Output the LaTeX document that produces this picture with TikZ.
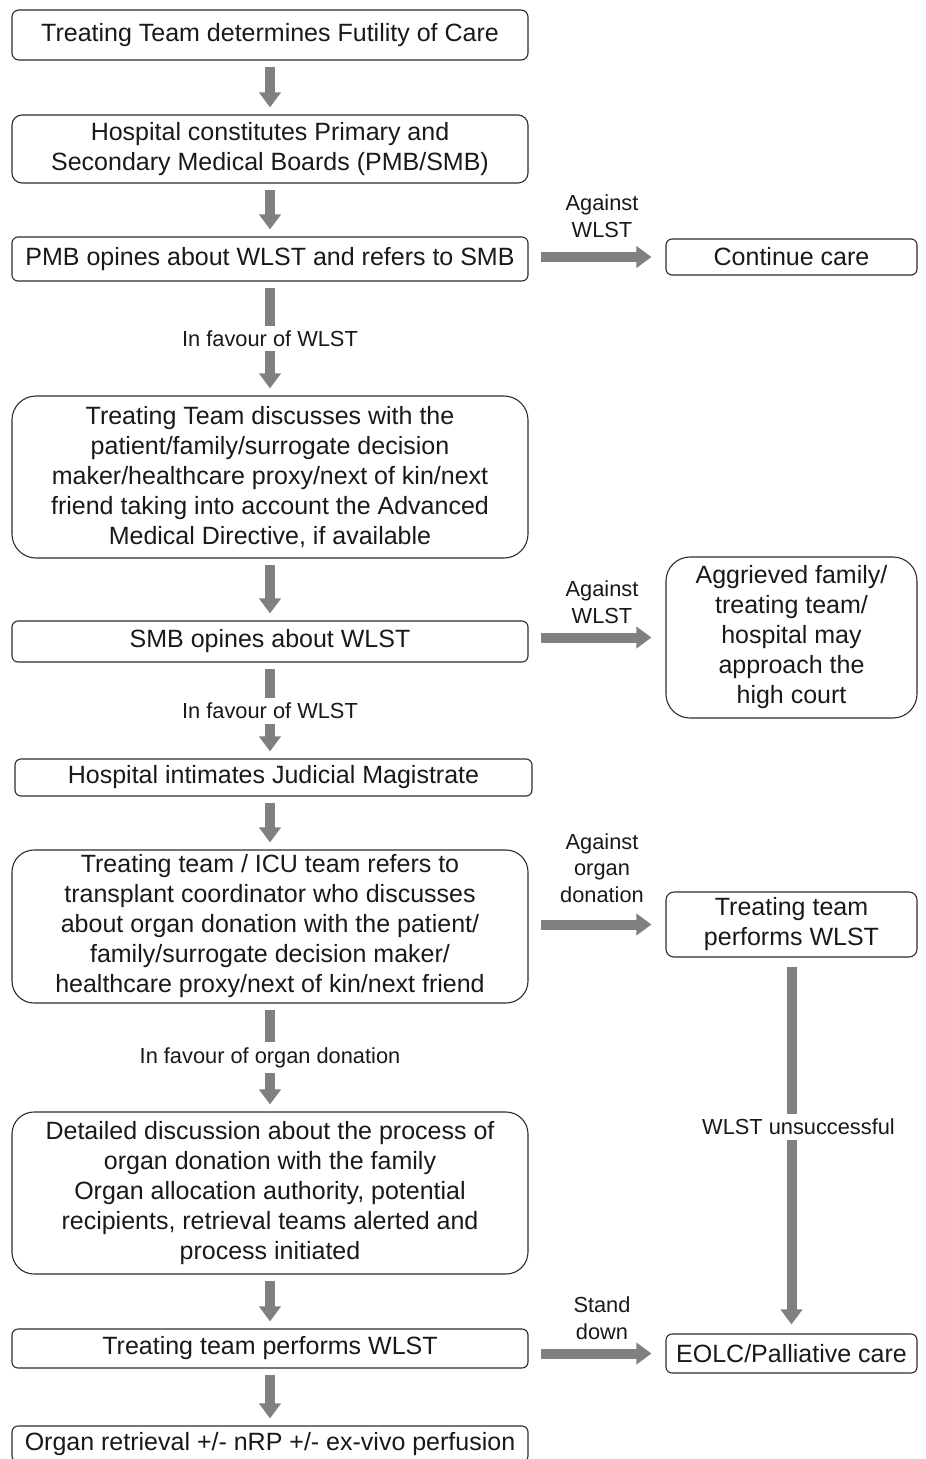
\documentclass[tikz,border=0pt]{standalone}
\usepackage{fontspec}
\setmainfont{Liberation Sans}
\usetikzlibrary{arrows.meta}
\definecolor{arrgray}{RGB}{128,128,128}
\definecolor{txt}{RGB}{25,25,25}
\definecolor{edge}{RGB}{45,45,45}
\begin{document}
\begin{tikzpicture}[x=1pt,y=-1pt,
  box/.style={draw=edge, line width=1.1pt, rounded corners=#1, align=center,
    font=\fontsize{25}{30}\selectfont, text=txt, inner sep=0pt, minimum width=516pt},
  box/.default=6pt,
  lbl/.style={font=\fontsize{21.8}{26.5}\selectfont, align=center, text=txt, inner sep=0pt},
  vlbl/.style={lbl, fill=white, inner sep=5pt},
  arr/.style={draw=arrgray, line width=10pt, -{Triangle[width=21pt,length=15pt]}},
  vshort/.style={shorten <=6pt, shorten >=7pt},
  hshort/.style={shorten <=12pt, shorten >=14pt}]
\useasboundingbox (0,0) rectangle (926,1459);
\clip (0,0) rectangle (926,1459);

\node[box=7pt, minimum height=50pt] (b1) at (270,35) {Treating Team determines Futility of Care};
\node[box=10pt, minimum height=68pt] (b2) at (270,149) {Hospital constitutes Primary and\\Secondary Medical Boards (PMB/SMB)};
\node[box=6pt, minimum height=44pt] (b3) at (270,259) {PMB opines about WLST and refers to SMB};
\node[box=6pt, minimum width=251pt, minimum height=36pt] (cont) at (791.5,257) {Continue care};
\node[box=24pt, minimum height=162pt] (b4) at (270,477) {Treating Team discusses with the\\patient/family/surrogate decision\\maker/healthcare proxy/next of kin/next\\friend taking into account the Advanced\\Medical Directive, if available};
\node[box=6pt, minimum height=41pt] (b5) at (270,641.5) {SMB opines about WLST};
\node[box=24pt, minimum width=251pt, minimum height=161pt] (aggr) at (791.5,637.5) {Aggrieved family/\\treating team/\\hospital may\\approach the\\high court};
\node[box=6pt, minimum width=517pt, minimum height=37pt] (b6) at (273.5,777.5) {Hospital intimates Judicial Magistrate};
\node[box=22pt, minimum height=153pt] (b7) at (270,926.5) {Treating team / ICU team refers to\\transplant coordinator who discusses\\about organ donation with the patient/\\family/surrogate decision maker/\\healthcare proxy/next of kin/next friend};
\node[box=8pt, minimum width=251pt, minimum height=65pt] (twls) at (791.5,924.5) {Treating team\\performs WLST};
\node[box=22pt, minimum height=162pt] (b8) at (270,1193) {Detailed discussion about the process of\\organ donation with the family\\Organ allocation authority, potential\\recipients, retrieval teams alerted and\\process initiated};
\node[box=6pt, minimum height=39pt] (b9) at (270,1348.5) {Treating team performs WLST};
\node[box=6pt, minimum width=251pt, minimum height=39pt] (eolc) at (791.5,1353.5) {EOLC/Palliative care};
\node[box=6pt, minimum height=36pt] (b10) at (270,1444) {Organ retrieval +/- nRP +/- ex-vivo perfusion};

% vertical arrows
\draw[arr, vshort] (b1) -- (b2);
\draw[arr, vshort] (b2) -- (b3);
\draw[arr, vshort] (b3) -- node[vlbl] {In favour of WLST} (b4);
\draw[arr, vshort] (b4) -- (b5);
\draw[arr, vshort] (b5.south) -- node[vlbl] {In favour of WLST} (b5.south |- b6.north);
\draw[arr, vshort] (b6.south -| b7.north) -- (b7);
\draw[arr, vshort] (b7) -- node[vlbl] {In favour of organ donation} (b8);
\draw[arr, vshort] (b8) -- (b9);
\draw[arr, vshort] (b9) -- (b10);
\draw[arr, shorten <=9pt, shorten >=9pt] (twls) -- node[vlbl, pos=0.45, xshift=7pt] {WLST unsuccessful} (eolc);

% horizontal arrows
\draw[arr, hshort] (b3.east |- cont.west) -- node[lbl, yshift=41pt, xshift=5pt] {Against\\WLST} (cont.west);
\draw[arr, hshort] (b5.east |- aggr.west) -- node[lbl, yshift=35.5pt, xshift=5pt] {Against\\WLST} (aggr.west);
\draw[arr, hshort] (b7.east |- twls.west) -- node[lbl, yshift=56.5pt, xshift=5pt] {Against\\organ\\donation} (twls.west);
\draw[arr, hshort] (b9.east |- eolc.west) -- node[lbl, yshift=35.5pt, xshift=5pt] {Stand\\down} (eolc.west);
\end{tikzpicture}
\end{document}
